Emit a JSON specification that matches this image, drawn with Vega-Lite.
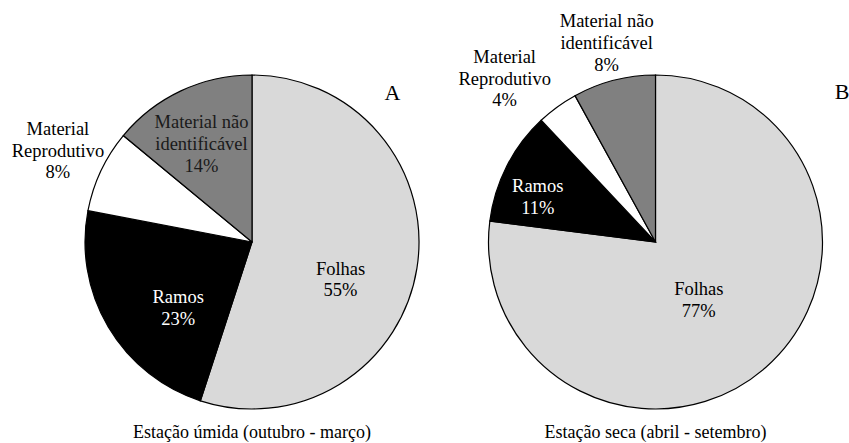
{
  "$schema": "https://vega.github.io/schema/vega-lite/v6.json",
  "background": "white",
  "padding": {"left": 11, "top": 12, "right": 0, "bottom": 0},
  "bounds": "flush",
  "spacing": 63.5,
  "config": {
    "view": {"stroke": null},
    "text": {"font": "Liberation Serif", "fontSize": 18.5, "lineHeight": 21.7, "lineBreak": "\n", "color": "#000"},
    "title": {"font": "Liberation Serif", "fontWeight": "normal", "fontSize": 18, "color": "#000"}
  },
  "hconcat": [
    {
      "width": 340,
      "height": 334,
      "data": {"values": [
        {"cat": "Folhas", "ord": 1, "value": 55, "label": "Folhas\n55%"},
        {"cat": "Ramos", "ord": 2, "value": 23, "label": "Ramos\n23%"},
        {"cat": "Material Reprodutivo", "ord": 3, "value": 8, "label": "Material\nReprodutivo\n8%"},
        {"cat": "Material não identificável", "ord": 4, "value": 14, "label": "Material não\nidentificável\n14%"}
      ]},
      "title": {"text": "Estação úmida (outubro - março)", "orient": "bottom", "anchor": "middle", "frame": "group", "offset": 12.3, "baseline": "top"},
      "layer": [
        {
          "mark": {"type": "arc", "stroke": "#000", "strokeWidth": 1.2},
          "encoding": {
            "theta": {"field": "value", "type": "quantitative", "stack": true},
            "order": {"field": "ord", "type": "quantitative"},
            "color": {"field": "cat", "type": "nominal", "legend": null,
              "scale": {"domain": ["Folhas", "Ramos", "Material Reprodutivo", "Material não identificável"], "range": ["#d9d9d9", "#000000", "#ffffff", "#808080"]}}
          }
        },
        {
          "mark": {"type": "text", "radius": 93.3, "dx": -3.6, "dy": 12.05, "align": "center", "baseline": "middle"},
          "encoding": {
            "theta": {"field": "value", "type": "quantitative", "stack": true},
            "order": {"field": "ord", "type": "quantitative"},
            "text": {"condition": {"test": "datum.cat === 'Folhas'", "field": "label"}, "value": ""}
          }
        },
        {
          "mark": {"type": "text", "radius": 97.1, "dx": 9.8, "dy": 5.75, "align": "center", "baseline": "middle", "color": "#fff"},
          "encoding": {
            "theta": {"field": "value", "type": "quantitative", "stack": true},
            "order": {"field": "ord", "type": "quantitative"},
            "text": {"condition": {"test": "datum.cat === 'Ramos'", "field": "label"}, "value": ""}
          }
        },
        {
          "mark": {"type": "text", "radius": 214.5, "dx": 0, "dy": -21.7, "align": "center", "baseline": "middle"},
          "encoding": {
            "theta": {"field": "value", "type": "quantitative", "stack": true},
            "order": {"field": "ord", "type": "quantitative"},
            "text": {"condition": {"test": "datum.cat === 'Material Reprodutivo'", "field": "label"}, "value": ""}
          }
        },
        {
          "mark": {"type": "text", "radius": 110.2, "dx": -3.6, "dy": -20, "align": "center", "baseline": "middle", "color": "#1a1a1a"},
          "encoding": {
            "theta": {"field": "value", "type": "quantitative", "stack": true},
            "order": {"field": "ord", "type": "quantitative"},
            "text": {"condition": {"test": "datum.cat === 'Material não identificável'", "field": "label"}, "value": ""}
          }
        },
        {
          "data": {"values": [{"letter": "A"}]},
          "mark": {"type": "text", "fontSize": 22, "align": "center", "baseline": "alphabetic"},
          "encoding": {
            "x": {"datum": 0.9132, "type": "quantitative", "scale": {"domain": [0, 1], "nice": false}, "axis": null},
            "y": {"datum": 0.9257, "type": "quantitative", "scale": {"domain": [0, 1], "nice": false}, "axis": null},
            "text": {"field": "letter"}
          }
        }
      ]
    },
    {
      "width": 340,
      "height": 334,
      "data": {"values": [
        {"cat": "Folhas", "ord": 1, "value": 77, "label": "Folhas\n77%"},
        {"cat": "Ramos", "ord": 2, "value": 11, "label": "Ramos\n11%"},
        {"cat": "Material Reprodutivo", "ord": 3, "value": 4, "label": "Material\nReprodutivo\n4%"},
        {"cat": "Material não identificável", "ord": 4, "value": 8, "label": "Material não\nidentificável\n8%"}
      ]},
      "title": {"text": "Estação seca (abril - setembro)", "orient": "bottom", "anchor": "middle", "frame": "group", "offset": 12.3, "baseline": "top"},
      "layer": [
        {
          "mark": {"type": "arc", "stroke": "#000", "strokeWidth": 1.2},
          "encoding": {
            "theta": {"field": "value", "type": "quantitative", "stack": true},
            "order": {"field": "ord", "type": "quantitative"},
            "color": {"field": "cat", "type": "nominal", "legend": null,
              "scale": {"domain": ["Folhas", "Ramos", "Material Reprodutivo", "Material não identificável"], "range": ["#d9d9d9", "#000000", "#ffffff", "#808080"]}}
          }
        },
        {
          "mark": {"type": "text", "radius": 72.3, "dx": -4.5, "dy": -6.85, "align": "center", "baseline": "middle"},
          "encoding": {
            "theta": {"field": "value", "type": "quantitative", "stack": true},
            "order": {"field": "ord", "type": "quantitative"},
            "text": {"condition": {"test": "datum.cat === 'Folhas'", "field": "label"}, "value": ""}
          }
        },
        {
          "mark": {"type": "text", "radius": 125.2, "dx": -6.2, "dy": 1.15, "align": "center", "baseline": "middle", "color": "#fff"},
          "encoding": {
            "theta": {"field": "value", "type": "quantitative", "stack": true},
            "order": {"field": "ord", "type": "quantitative"},
            "text": {"condition": {"test": "datum.cat === 'Ramos'", "field": "label"}, "value": ""}
          }
        },
        {
          "mark": {"type": "text", "radius": 220.7, "dx": -21.1, "dy": -6.4, "align": "center", "baseline": "middle"},
          "encoding": {
            "theta": {"field": "value", "type": "quantitative", "stack": true},
            "order": {"field": "ord", "type": "quantitative"},
            "text": {"condition": {"test": "datum.cat === 'Material Reprodutivo'", "field": "label"}, "value": ""}
          }
        },
        {
          "mark": {"type": "text", "radius": 205.1, "dx": 2.2, "dy": -22.2, "align": "center", "baseline": "middle"},
          "encoding": {
            "theta": {"field": "value", "type": "quantitative", "stack": true},
            "order": {"field": "ord", "type": "quantitative"},
            "text": {"condition": {"test": "datum.cat === 'Material não identificável'", "field": "label"}, "value": ""}
          }
        },
        {
          "data": {"values": [{"letter": "B"}]},
          "mark": {"type": "text", "fontSize": 22, "align": "center", "baseline": "alphabetic"},
          "encoding": {
            "x": {"datum": 1.0485, "type": "quantitative", "scale": {"domain": [0, 1], "nice": false}, "axis": null},
            "y": {"datum": 0.9287, "type": "quantitative", "scale": {"domain": [0, 1], "nice": false}, "axis": null},
            "text": {"field": "letter"}
          }
        }
      ]
    }
  ]
}
